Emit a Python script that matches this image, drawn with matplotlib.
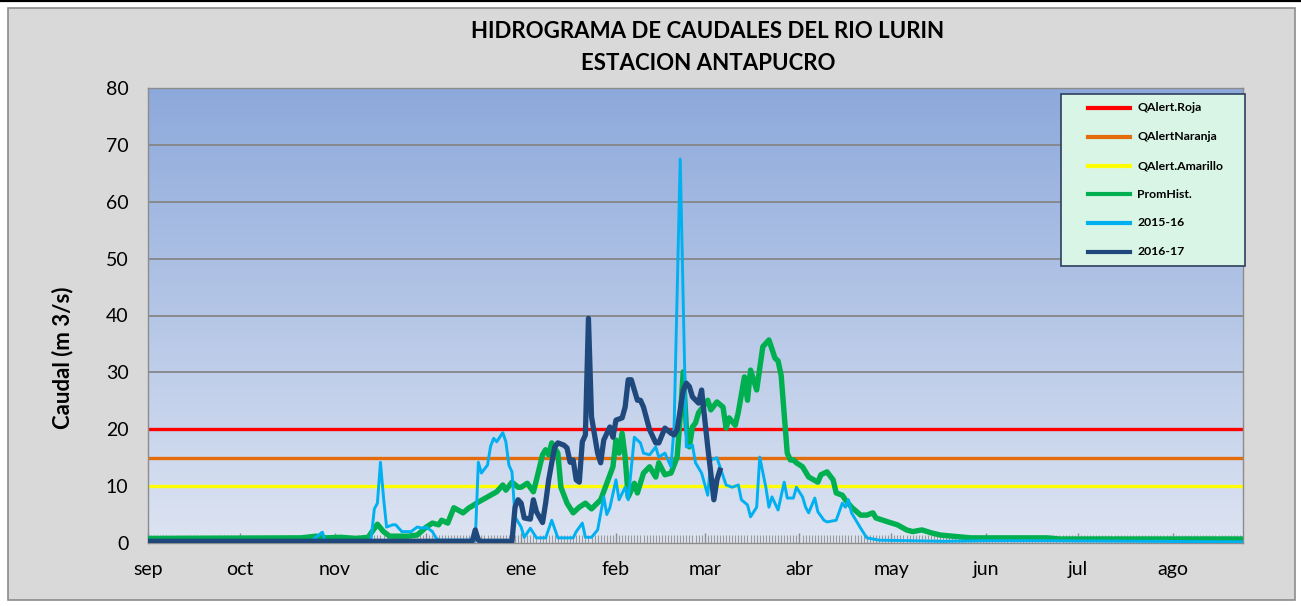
import numpy as np
import matplotlib
matplotlib.use('Agg')
import matplotlib.pyplot as plt
from matplotlib.patches import Rectangle
from matplotlib.lines import Line2D

W, H = 1301, 606

# ---------------- data ----------------
months = ['sep', 'oct', 'nov', 'dic', 'ene', 'feb', 'mar', 'abr', 'may', 'jun', 'jul', 'ago']
month_start_day = [0, 30, 61, 91, 122, 153, 182, 213, 243, 274, 304, 335]

q_roja = 20
q_naranja = 15
q_amarillo = 10

prom_day = [0, 50, 55, 58, 63, 68, 72, 73, 75, 77, 79, 85, 88, 91, 93, 95, 96, 98, 100, 103,
            105, 106, 108, 111, 114, 116, 117, 119, 121, 122, 124, 126, 127, 129, 130, 131, 132,
            134, 135, 137, 139, 141, 143, 145, 148, 150, 152, 153, 154, 155, 156, 157, 159, 160,
            162, 164, 166, 167, 169, 171, 173, 174, 175, 176, 177, 178, 179, 180, 183, 184, 186,
            188, 189, 190, 192, 193, 195, 196, 197, 199, 201, 203, 205, 206, 207, 209, 210, 211,
            212, 214, 216, 219, 220, 222, 224, 225, 227, 228, 230, 233, 235, 237, 238, 242, 245,
            248, 250, 253, 256, 259, 263, 269, 294, 298, 358]
prom_q = [0.8, 0.9, 1.2, 0.9, 1.0, 0.8, 1.0, 1.8, 3.3, 2.0, 1.2, 1.2, 1.4, 2.8, 3.5, 3.2, 4.0,
          3.5, 6.2, 5.3, 6.2, 6.5, 7.2, 8.1, 9.0, 10.2, 9.3, 10.7, 9.8, 9.8, 10.5, 9.0, 11.1,
          15.5, 16.4, 15.5, 17.6, 15.8, 9.8, 7.0, 5.3, 6.3, 7.0, 6.0, 7.6, 10.5, 13.4, 18.1,
          15.8, 19.3, 15.1, 8.1, 10.5, 8.8, 12.3, 13.4, 11.6, 14.1, 12.0, 12.3, 15.1, 22.2,
          30.1, 20.4, 16.9, 20.4, 21.1, 22.9, 25.1, 23.4, 24.8, 23.9, 20.2, 22.0, 20.7, 23.0,
          29.2, 25.1, 30.4, 26.9, 34.5, 35.7, 32.5, 32.0, 29.5, 15.8, 14.6, 14.6, 14.1, 13.4,
          11.6, 10.7, 12.0, 12.5, 11.1, 8.8, 8.4, 7.6, 6.3, 4.9, 4.9, 5.3, 4.4, 3.7, 3.2, 2.3,
          2.0, 2.3, 1.8, 1.4, 1.2, 0.9, 0.9, 0.7, 0.7]

q1516_day = [0, 53, 57, 58, 72, 73, 74, 75, 76, 77, 78, 80, 81, 83, 86, 88, 90, 91, 93, 94, 95,
             107, 108, 109, 111, 112, 113, 114, 116, 117, 118, 119, 120, 122, 123, 125, 127, 130,
             132, 134, 139, 140, 142, 143, 145, 147, 149, 150, 151, 153, 154, 156, 157, 159, 161,
             162, 164, 166, 167, 169, 171, 172, 174, 176, 178, 179, 181, 183, 184, 186, 187, 189,
             191, 193, 194, 196, 197, 199, 200, 202, 203, 204, 206, 208, 209, 211, 212, 214, 215,
             216, 218, 219, 221, 222, 225, 227, 228, 229, 230, 233, 235, 239, 260, 274, 292, 358]
q1516 = [0.2, 0.2, 1.9, 0.3, 0.3, 1.0, 6.0, 7.0, 14.2, 8.0, 2.8, 3.2, 3.2, 2.0, 2.0, 2.8, 2.6,
         2.8, 2.0, 1.0, 0.5, 0.5, 14.2, 12.3, 13.7, 17.0, 18.4, 17.8, 19.4, 17.8, 13.7, 12.5,
         4.6, 2.8, 1.0, 2.6, 0.9, 0.9, 4.0, 0.9, 0.9, 2.0, 3.5, 1.0, 1.0, 2.3, 8.1, 5.0, 6.2,
         11.1, 7.6, 9.8, 7.6, 18.6, 17.6, 15.8, 15.5, 16.9, 15.1, 15.8, 13.4, 20.4, 67.5, 16.9,
         17.2, 14.1, 12.3, 8.4, 14.6, 15.0, 13.4, 10.2, 9.8, 10.2, 7.6, 6.7, 4.6, 6.3, 15.1,
         9.8, 6.3, 8.1, 5.8, 10.7, 7.9, 7.9, 9.8, 8.1, 6.3, 5.3, 7.9, 5.5, 4.0, 3.7, 4.0, 7.0,
         6.3, 7.6, 5.3, 2.6, 0.9, 0.5, 0.3, 0.4, 0.4, 0.2]

q1617_day = [0, 106, 107, 108, 109, 119, 120, 121, 122, 123, 125, 126, 127, 129, 130, 131, 132,
             133, 134, 136, 137, 138, 139, 140, 141, 142, 143, 144, 145, 147, 148, 149, 151, 152,
             153, 155, 156, 157, 158, 160, 161, 162, 164, 166, 167, 169, 171, 172, 173, 175, 176,
             177, 178, 180, 181, 183, 184, 185, 186, 187]
q1617 = [0.3, 0.3, 2.3, 0.5, 0.3, 0.3, 6.3, 7.6, 7.0, 4.4, 4.2, 7.6, 5.5, 3.6, 7.0, 11.1, 14.1,
         16.9, 17.6, 17.2, 16.7, 14.2, 14.6, 11.1, 10.7, 17.8, 19.0, 39.5, 22.2, 15.8, 14.1,
         18.1, 20.4, 18.6, 21.6, 22.0, 23.9, 28.7, 28.7, 25.1, 25.1, 23.9, 19.9, 17.6, 17.6,
         20.2, 19.3, 19.0, 19.9, 26.9, 28.1, 27.5, 25.7, 24.6, 26.9, 16.9, 12.3, 7.6, 11.1, 12.8]

legend_labels = ['QAlert.Roja', 'QAlertNaranja', 'QAlert.Amarillo', 'PromHist.', '2015-16', '2016-17']
colors = ['#FF0000', '#E46C0A', '#FFFF00', '#00B050', '#00B0F0', '#1F497D']

# ---------------- figure ----------------
fig = plt.figure(figsize=(W / 100, H / 100), dpi=100)
fig.patch.set_facecolor('white')

def fx(x):
    return x / W

def fy(y):
    return 1 - y / H

# chart area background + border
fig.patches.append(Rectangle((fx(8), fy(600)), fx(1295) - fx(8), fy(8) - fy(600),
                             transform=fig.transFigure, facecolor='#D9D9D9',
                             edgecolor='#8C8C8C', linewidth=1.2, zorder=-10))
# black top line
fig.add_artist(Line2D([0, 1], [fy(0.8), fy(0.8)], transform=fig.transFigure,
                      color='black', linewidth=1.6, zorder=-5))

ax = fig.add_axes([fx(148), fy(543), fx(1243) - fx(148), fy(88) - fy(543)])
ax.set_zorder(1)
ax.set_facecolor('none')

xmax = 358
ax.set_xlim(0, xmax)
ax.set_ylim(0, 80)

# gradient background
top = np.array([141, 169, 219]) / 255
bot = np.array([221, 228, 242]) / 255
t = np.linspace(0, 1, 256)[:, None]
grad = (top[None, :] * (1 - t) + bot[None, :] * t)[:, None, :]
ax.imshow(grad, extent=[0, xmax, 0, 80], aspect='auto', origin='upper', zorder=0)

# grid
for v in range(10, 81, 10):
    ax.axhline(v, color='#868686', linewidth=1.3, zorder=1)

# series
ax.axhline(q_roja, color=colors[0], linewidth=2.4, zorder=2)
ax.axhline(q_naranja, color=colors[1], linewidth=2.4, zorder=2)
ax.axhline(q_amarillo, color=colors[2], linewidth=2.4, zorder=2)
ax.plot(prom_day, prom_q, color=colors[3], linewidth=3.9, zorder=3, solid_joinstyle='round')
ax.plot(q1516_day, q1516, color=colors[4], linewidth=2.1, zorder=4, solid_joinstyle='round')
ax.plot(q1617_day, q1617, color=colors[5], linewidth=3.8, zorder=5, solid_joinstyle='round')

# axes styling
for s in ax.spines.values():
    s.set_color('#8C8C8C')
    s.set_linewidth(1.0)
ax.set_yticks(range(0, 81, 10))
ax.tick_params(axis='y', length=0, pad=14, labelsize=14)
ax.set_xticks(month_start_day)
ax.set_xticklabels(months)
ax.set_xticks(np.arange(0, xmax, 1), minor=True)
ax.tick_params(axis='x', which='major', direction='in', length=7, width=1.0,
               color='#8C8C8C', pad=13, labelsize=14)
ax.tick_params(axis='x', which='minor', direction='in', length=6, width=0.8, color='#9A9A9A')
for lab in ax.get_xticklabels() + ax.get_yticklabels():
    lab.set_family('Lato')

# titles
fig.text(fx(708), fy(32), 'HIDROGRAMA DE CAUDALES DEL RIO LURIN', ha='center', va='center',
         fontsize=16, fontweight='bold', family='Lato')
fig.text(fx(708), fy(64), 'ESTACION ANTAPUCRO', ha='center', va='center',
         fontsize=16, fontweight='bold', family='Lato')
fig.text(fx(63), fy(358), 'Caudal (m 3/s)', rotation=90, ha='center', va='center',
         fontsize=16, fontweight='bold', family='Lato')

# legend (drawn manually in figure pixels)
fig.patches.append(Rectangle((fx(1061), fy(266)), fx(1245) - fx(1061), fy(94) - fy(266),
                             transform=fig.transFigure, facecolor='#D8F5E6',
                             edgecolor='#2F3F5F', linewidth=1.2, zorder=10))
entry_y = [108, 137, 166, 194, 223, 252]
for yy, c, lab in zip(entry_y, colors, legend_labels):
    fig.add_artist(Line2D([fx(1088), fx(1130)], [fy(yy), fy(yy)], transform=fig.transFigure,
                          color=c, linewidth=3, zorder=11))
    fig.text(fx(1137), fy(yy), lab, ha='left', va='center', fontsize=8.8,
             fontweight='bold', family='Lato', zorder=12)

fig.savefig('out.png', dpi=100)
